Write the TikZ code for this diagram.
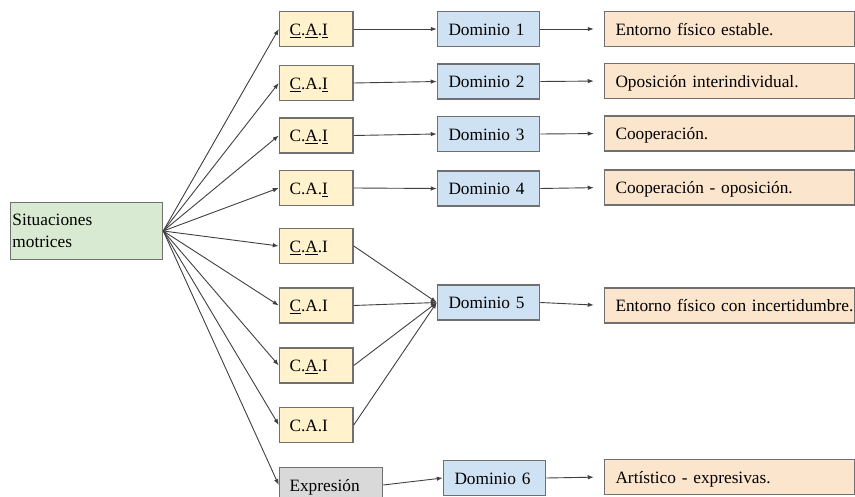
\documentclass[tikz,border=0pt]{standalone}
\usepackage{fontspec}
\setmainfont{Liberation Serif}
\usetikzlibrary{arrows.meta}
\definecolor{sitgreen}{HTML}{D9EAD3}
\definecolor{caiyellow}{HTML}{FFF2CC}
\definecolor{domblue}{HTML}{CFE2F3}
\definecolor{envorange}{HTML}{FCE5CD}
\definecolor{exprgray}{HTML}{D9D9D9}
\definecolor{edgegray}{HTML}{707070}
\definecolor{linegray}{HTML}{404040}
\begin{document}
\begin{tikzpicture}[x=1pt,y=-1pt,
    font=\fontsize{17.3}{22}\selectfont,
    box/.style={draw=edgegray,line width=1.5pt,minimum height=35pt,inner ysep=0pt,inner xsep=11pt,
      text height=15pt,text depth=2pt,anchor=west,align=left},
    sitbox/.style={box,fill=sitgreen,minimum height=57pt,inner xsep=2pt,text width=148pt,
      text height=,text depth=},
    caibox/.style={box,fill=caiyellow,inner xsep=10pt,text width=53.5pt},
    exprbox/.style={box,fill=exprgray,inner xsep=10pt,text width=83pt},
    dombox/.style={box,fill=domblue,text width=80pt},
    envbox/.style={box,fill=envorange,text width=228pt},
    arr/.style={draw=linegray,line width=0.9pt,-{Latex[length=6pt,width=4.5pt]}}
  ]
    \clip (0,0) rectangle (855,497);
    \node[sitbox] (sit) at (9.75,231) {Situaciones\\motrices};
    \node[caibox] (c1) at (278.75,29)    {\underline{C}.\underline{A}.\underline{I}};
    \node[caibox] (c2) at (278.75,83)    {\underline{C}.A.\underline{I}};
    \node[caibox] (c3) at (278.75,135.5) {C.\underline{A}.\underline{I}};
    \node[caibox] (c4) at (278.75,188)   {C.A.\underline{I}};
    \node[caibox] (c5) at (278.75,246)   {\underline{C}.\underline{A}.I};
    \node[caibox] (c6) at (278.75,305.5) {\underline{C}.A.I};
    \node[caibox] (c7) at (278.75,365.5) {C.\underline{A}.I};
    \node[caibox] (c8) at (278.75,425)   {C.A.I};
    \node[exprbox] (expr) at (278.75,485) {Expresión};
    \node[dombox] (d1) at (436.75,29)    {Dominio 1};
    \node[dombox] (d2) at (436.75,81.5)  {Dominio 2};
    \node[dombox] (d3) at (436.75,134)   {Dominio 3};
    \node[dombox] (d4) at (436.75,188.5) {Dominio 4};
    \node[dombox] (d5) at (436.75,302.5) {Dominio 5};
    \node[dombox] (d6) at (442.75,478)   {Dominio 6};
    \node[envbox] (e1) at (603.75,29)    {Entorno físico estable.};
    \node[envbox] (e2) at (603.75,81)    {Oposición interindividual.};
    \node[envbox] (e3) at (603.75,133.5) {Cooperación.};
    \node[envbox] (e4) at (603.75,187.5) {Cooperación - oposición.};
    \node[envbox] (e5) at (603.75,305.5) {\mbox{Entorno físico con incertidumbre.}};
    \node[envbox] (e6) at (603.75,477)   {Artístico - expresivas.};
    \draw[arr] (sit.east) -- (c1.west);
    \draw[arr] (sit.east) -- (c2.west);
    \draw[arr] (sit.east) -- (c3.west);
    \draw[arr] (sit.east) -- (c4.west);
    \draw[arr] (sit.east) -- (c5.west);
    \draw[arr] (sit.east) -- (c6.west);
    \draw[arr] (sit.east) -- (c7.west);
    \draw[arr] (sit.east) -- (c8.west);
    \draw[arr] (sit.east) -- (expr.west);
    \draw[arr] (c1.east) -- (d1.west);
    \draw[arr] (c2.east) -- (d2.west);
    \draw[arr] (c3.east) -- (d3.west);
    \draw[arr] (c4.east) -- (d4.west);
    \draw[arr] (c5.east) -- (d5.west);
    \draw[arr] (c6.east) -- (d5.west);
    \draw[arr] (c7.east) -- (d5.west);
    \draw[arr] (c8.east) -- (d5.west);
    \draw[arr] (expr.east) -- (d6.west);
    \draw[arr,shorten >=10pt] (d1.east) -- (e1.west);
    \draw[arr,shorten >=10pt] (d2.east) -- (e2.west);
    \draw[arr,shorten >=10pt] (d3.east) -- (e3.west);
    \draw[arr,shorten >=10pt] (d4.east) -- (e4.west);
    \draw[arr,shorten >=10pt] (d5.east) -- (e5.west);
    \draw[arr,shorten >=10pt] (d6.east) -- (e6.west);
  \end{tikzpicture}
\end{document}
